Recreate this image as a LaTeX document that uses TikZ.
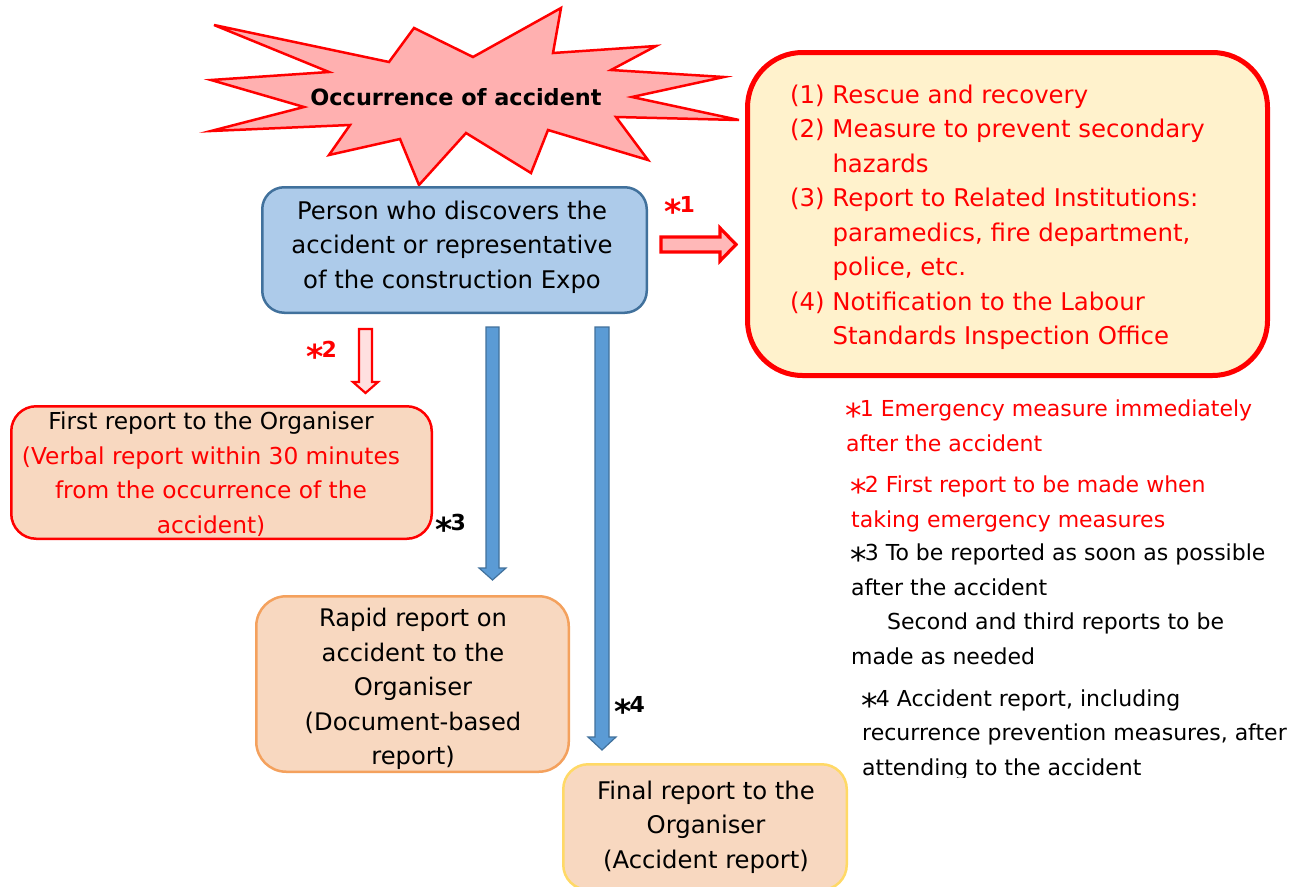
\documentclass[tikz,border=0pt]{standalone}
\usepackage{fontspec}
\setmainfont{DejaVu Sans}
\definecolor{burstfill}{HTML}{FFB0B0}
\definecolor{bluefill}{HTML}{ADCBEA}
\definecolor{blueline}{HTML}{41719C}
\definecolor{yelfill}{HTML}{FFF2CC}
\definecolor{peach}{HTML}{F8D8C0}
\definecolor{orangeline}{HTML}{F4A15D}
\definecolor{goldline}{HTML}{FFD966}
\definecolor{arrowblue}{HTML}{5B9BD5}
\definecolor{pinkA}{HTML}{FFB8B8}
\definecolor{pinkB}{HTML}{FFE0E0}
\definecolor{redline}{HTML}{FF0000}
\newcommand\astx{\kern-0.05em\raisebox{-0.5em}{\scalebox{1.5}{*}}\kern-0.08em}
\newcommand\fs[1]{\fontsize{#1}{34.5}\selectfont}
\begin{document}
\begin{tikzpicture}[x=1pt,y=-1pt,
  rbox/.style={draw, inner sep=0pt},
  txt/.style={inner sep=0pt, align=center},
  note/.style={inner sep=0pt, align=left, anchor=west, font=\fs{22}},
  lbl/.style={inner sep=0pt, font=\fontsize{22}{26}\selectfont\bfseries},
  bluearrow/.style={draw=blueline, fill=arrowblue, line width=1.2pt, line join=miter},
  redarrow/.style={draw=redline, line join=miter}
]
\clip (0,0) rectangle (1298,886);
\fill[white] (0,0) rectangle (1298,886);

% starburst
\draw[draw=redline, fill=burstfill, line width=2.5pt, line join=miter]
  (214,25) -- (389,62) -- (414,28) -- (473,57) -- (561,8) -- (553,53) -- (656,46)
  -- (611,70) -- (724,77) -- (632,97) -- (739,120) -- (616,117) -- (648,160)
  -- (548,130) -- (531,173) -- (466,133) -- (419,185) -- (400,139) -- (329,155)
  -- (350,125) -- (211,131) -- (304,107) -- (211,80) -- (329,72) -- cycle;
\node[inner sep=0pt, font=\fontsize{22.4}{26}\selectfont\bfseries] (occ) at (456,97) {Occurrence of accident};

% boxes
\node[rbox, draw=blueline, fill=bluefill, line width=2.5pt, rounded corners=22pt,
  minimum width=384.5pt, minimum height=125.5pt] (person) at (454.5,250) {};
\node[txt, font=\fs{24.3}] (persontxt) at (452,247)
  {Person who discovers the\\accident or representative\\of the construction Expo};

\node[rbox, draw=redline, fill=yelfill, line width=5pt, rounded corners=55pt,
  minimum width=520pt, minimum height=323pt] (measures) at (1007.5,214) {};
\node[inner sep=0pt, align=left, anchor=west, text=redline, font=\fs{24.4}] (measurestxt) at (790,217.5)
  {(1) Rescue and recovery\\
   (2) Measure to prevent secondary\\
   \hphantom{(2)\ }hazards\\
   (3) Report to Related Institutions:\\
   \hphantom{(3)\ }paramedics, fire department,\\
   \hphantom{(3)\ }police, etc.\\
   (4) Notification to the Labour\\
   \hphantom{(4)\ }Standards Inspection Office};

\node[rbox, draw=redline, fill=peach, line width=2.5pt, rounded corners=25pt,
  minimum width=420.5pt, minimum height=132.5pt] (first) at (221.5,472.5) {};
\node[txt, font=\fs{23.3}] (firsttxt) at (211,474)
  {First report to the Organiser\\
   \textcolor{redline}{(Verbal report within 30 minutes}\\
   \textcolor{redline}{from the occurrence of the}\\
   \textcolor{redline}{accident)}};

\node[rbox, draw=orangeline, fill=peach, line width=2.5pt, rounded corners=30pt,
  minimum width=312.5pt, minimum height=175.5pt] (rapid) at (412.5,684) {};
\node[txt, font=\fs{24.2}] (rapidtxt) at (413,689)
  {Rapid report on\\accident to the\\Organiser\\(Document-based\\report)};

\node[rbox, draw=goldline, fill=peach, line width=2.5pt, rounded corners=25pt,
  minimum width=283.5pt, minimum height=125.5pt] (final) at (705,827) {};
\node[txt, font=\fs{24.3}] (finaltxt) at (706,827)
  {Final report to the\\Organiser\\(Accident report)};

% block arrows
\draw[redarrow, fill=pinkA, line width=3.2pt]
  (661,237) -- (720,237) -- (720,228) -- (736,244.5) -- (720,261) -- (720,252) -- (661,252) -- cycle;
\draw[redarrow, fill=pinkB, line width=2.2pt]
  (359,329) -- (372,329) -- (372,382) -- (378,382) -- (365.5,393) -- (353,382) -- (359,382) -- cycle;
\draw[bluearrow]
  (486,327) -- (499,327) -- (499,568) -- (506,568) -- (492.5,580) -- (479,568) -- (486,568) -- cycle;
\draw[bluearrow]
  (595,327) -- (609,327) -- (609,737) -- (616,737) -- (602,750) -- (588,737) -- (595,737) -- cycle;

% labels
\node[lbl, text=redline] (s1) at (680,210) {\astx1};
\node[lbl, text=redline] (s2) at (322,355) {\astx2};
\node[lbl] (s3) at (451,528) {\astx3};
\node[lbl] (s4) at (630,710) {\astx4};

% notes
\node[note, text=redline] (n1) at (846,426)
  {\astx1 Emergency measure immediately\\after the accident};
\node[note, text=redline] (n2) at (851,504)
  {\astx2 First report to be made when\\taking emergency measures};
\node[note] (n3) at (851,604.5)
  {\astx3 To be reported as soon as possible\\after the accident\\
   \hspace*{36pt}Second and third reports to be\\made as needed};
\begin{scope}
\clip (850,680) rectangle (1298,777);
\node[note] (n4) at (862,734.5)
  {\astx4 Accident report, including\\recurrence prevention measures, after\\attending to the accident};
\end{scope}
\end{tikzpicture}
\end{document}
